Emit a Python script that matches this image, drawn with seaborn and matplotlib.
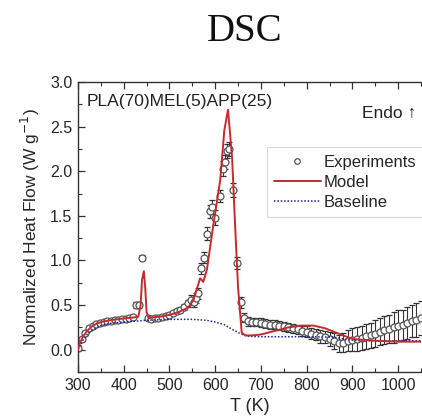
import numpy as np
import pandas as pd
import matplotlib
matplotlib.use("Agg")
import matplotlib.pyplot as plt
from matplotlib.ticker import MultipleLocator
from matplotlib.lines import Line2D
import seaborn as sns

# ---- data ----
T_model = [300, 305, 310, 320, 330, 340, 350, 370, 400, 420, 432, 437, 440, 444, 447, 450, 455,
           460, 480, 500, 520, 540, 552, 560, 567, 574, 582, 596, 611, 620, 628, 637, 644, 650,
           658, 666, 680, 700, 730, 760, 790, 815, 840, 870, 900, 950, 1000, 1050]
model = [0.0, 0.08, 0.14, 0.21, 0.26, 0.29, 0.31, 0.33, 0.35, 0.36, 0.37, 0.50, 0.78, 0.88, 0.70,
         0.42, 0.35, 0.36, 0.37, 0.39, 0.42, 0.47, 0.55, 0.68, 0.80, 0.76, 0.90, 1.40, 1.90, 2.46,
         2.69, 2.15, 1.34, 0.70, 0.19, 0.16, 0.16, 0.17, 0.21, 0.25, 0.27, 0.27, 0.24, 0.18, 0.12,
         0.10, 0.09, 0.09]

T_base = [300, 310, 320, 335, 350, 375, 400, 450, 500, 550, 580, 600, 620, 640, 655, 670, 700,
          800, 860, 890, 920, 1050]
base = [0.0, 0.10, 0.17, 0.23, 0.27, 0.30, 0.31, 0.33, 0.34, 0.34, 0.33, 0.31, 0.28, 0.22, 0.18,
        0.15, 0.145, 0.145, 0.14, 0.11, 0.10, 0.10]

T_exp = [300, 308, 316, 324, 332, 340, 348, 356, 364, 372, 380, 388, 396, 404, 412, 420, 427, 434,
         440, 452, 460, 468, 476, 484, 492, 500, 508, 516, 524, 532, 540, 548, 553, 558, 563, 569,
         575, 583, 588, 593, 600, 611, 616, 622, 626, 631, 639, 648, 656, 664, 672, 680, 690, 700,
         710, 720, 730, 740, 750, 760, 770, 780, 790, 800, 810, 820, 830, 840, 850, 860, 870, 880,
         890, 900, 910, 920, 930, 940, 950, 960, 970, 980, 990, 1000, 1010, 1020, 1030, 1040, 1050]
exp_val = [0.02, 0.12, 0.19, 0.24, 0.27, 0.29, 0.30, 0.31, 0.32, 0.32, 0.33, 0.33, 0.34, 0.34,
           0.35, 0.37, 0.50, 0.50, 1.03, 0.35, 0.34, 0.35, 0.36, 0.37, 0.38, 0.39, 0.41, 0.43, 0.45,
           0.48, 0.52, 0.56, 0.53, 0.58, 0.63, 0.91, 1.03, 1.30, 1.55, 1.60, 1.48, 1.72, 2.03, 2.10,
           2.23, 2.25, 1.79, 0.97, 0.53, 0.36, 0.32, 0.31, 0.31, 0.30, 0.29, 0.28, 0.28, 0.27, 0.26,
           0.25, 0.24, 0.23, 0.21, 0.20, 0.18, 0.17, 0.15, 0.14, 0.12, 0.10, 0.07, 0.08, 0.10, 0.11,
           0.12, 0.13, 0.15, 0.16, 0.18, 0.20, 0.22, 0.23, 0.25, 0.27, 0.28, 0.30, 0.32, 0.33, 0.35]
exp_err = [0.03, 0.02, 0.02, 0.02, 0.02, 0.02, 0.02, 0.02, 0.02, 0.02, 0.02, 0.02, 0.02, 0.02,
           0.02, 0.02, 0.03, 0.03, 0.03, 0.02, 0.02, 0.02, 0.02, 0.02, 0.02, 0.02, 0.02, 0.02, 0.03,
           0.03, 0.04, 0.05, 0.05, 0.06, 0.06, 0.06, 0.06, 0.07, 0.07, 0.08, 0.08, 0.07, 0.08, 0.08,
           0.08, 0.08, 0.08, 0.07, 0.06, 0.05, 0.05, 0.05, 0.05, 0.05, 0.05, 0.05, 0.05, 0.05, 0.05,
           0.05, 0.05, 0.05, 0.06, 0.06, 0.06, 0.06, 0.07, 0.07, 0.08, 0.09, 0.10, 0.11, 0.12, 0.13,
           0.13, 0.13, 0.14, 0.14, 0.15, 0.15, 0.16, 0.16, 0.17, 0.17, 0.17, 0.18, 0.18, 0.19, 0.19]

# ---- style ----
sns.set_theme(style="ticks")
plt.rcParams['font.family'] = ['Liberation Sans', 'DejaVu Sans']
plt.rcParams['xtick.direction'] = 'in'
plt.rcParams['ytick.direction'] = 'in'

fig = plt.figure(figsize=(4.22, 4.19), dpi=100)
ax = fig.add_axes([0.1848, 0.1122, 0.8128, 0.6921])

red = '#c62a2f'
navy = '#23238e'

ax.errorbar(T_exp, exp_val, yerr=exp_err, fmt='o', ms=5, mfc='white', mec='#555555', mew=0.9,
            ecolor='#333333', elinewidth=0.8, capsize=2.0, capthick=0.7, zorder=2)

dfm = pd.DataFrame({'T': T_model, 'v': model})
dfb = pd.DataFrame({'T': T_base, 'v': base})
sns.lineplot(data=dfb, x='T', y='v', ax=ax, color=navy, lw=1.1, linestyle=(0, (1, 1.2)), zorder=3)
sns.lineplot(data=dfm, x='T', y='v', ax=ax, color=red, lw=1.4, zorder=4)

ax.set_xlim(300, 1050)
ax.set_ylim(-0.25, 3.0)
ax.xaxis.set_major_locator(MultipleLocator(100))
ax.xaxis.set_minor_locator(MultipleLocator(50))
ax.yaxis.set_major_locator(MultipleLocator(0.5))
ax.yaxis.set_minor_locator(MultipleLocator(0.25))
ax.yaxis.set_major_formatter(matplotlib.ticker.FormatStrFormatter('%.1f'))
ax.tick_params(which='major', length=5, width=0.9, labelsize=11.5, color='#333333',
               top=True, right=False, pad=4)
ax.tick_params(which='minor', length=3, width=0.8, color='#333333', top=True, right=False)
for s in ['left', 'bottom', 'top']:
    ax.spines[s].set_color('#333333')
    ax.spines[s].set_linewidth(1.0)
ax.spines['right'].set_visible(False)

ax.set_xlabel('T (K)', fontsize=13, labelpad=4)
ax.set_ylabel('Normalized Heat Flow (W g$^{-1}$)', fontsize=12.5, labelpad=6)

ax.text(0.025, 0.96, 'PLA(70)MEL(5)APP(25)', transform=ax.transAxes, fontsize=12.5,
        ha='left', va='top', color='#222222')
ax.text(0.985, 0.89, 'Endo \u2191', transform=ax.transAxes, fontsize=12.5,
        ha='right', va='center', color='#222222', family=['Liberation Sans', 'DejaVu Sans'])

handles = [Line2D([], [], marker='o', ls='none', ms=4, mfc='white', mec='#555555', mew=0.9),
           Line2D([], [], color=red, lw=1.4),
           Line2D([], [], color=navy, lw=1.1, ls=(0, (1, 1.2)))]
leg = ax.legend(handles, ['Experiments', 'Model', 'Baseline'], loc='upper left',
                bbox_to_anchor=(0.55, 0.775), fontsize=12, frameon=True, fancybox=False,
                edgecolor='#cccccc', handlelength=2.8, handletextpad=0.15, labelspacing=0.3,
                borderpad=0.45, borderaxespad=0)
leg.get_frame().set_linewidth(0.8)

fig.text(0.58, 0.925, 'DSC', fontsize=28, family=['Liberation Serif', 'DejaVu Serif'],
         ha='center', va='center', color='#111111')

fig.savefig('out.png', dpi=100)
